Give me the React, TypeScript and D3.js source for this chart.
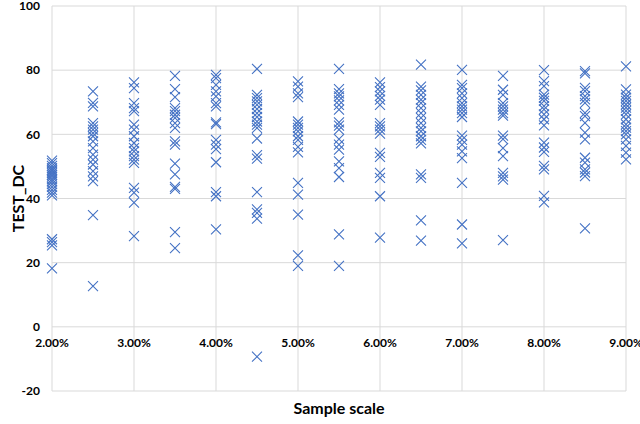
import React from "react";
import * as d3 from "d3";

// sample scale categories (x)
const sampleScale = [0.02, 0.025, 0.03, 0.035, 0.04, 0.045, 0.05, 0.055, 0.06, 0.065, 0.07, 0.075, 0.08, 0.085, 0.09];

// TEST_DC values read per sample scale
const dc200 = [51.8, 51, 50.2, 49.5, 49, 48.5, 48, 47.4, 46.8, 46, 45.3, 44.5, 43.6, 42.7, 41.8, 41, 27.3, 26.4, 25.4, 18.2];
const dc250 = [73.4, 69.8, 68.7, 63.5, 62.5, 61.5, 60.4, 59.4, 57.8, 55.7, 53.7, 52.1, 50.6, 48.5, 46.9, 45.4, 34.8, 12.7];
const dc300 = [76.2, 74.4, 69.7, 68.2, 67.2, 63, 61.5, 59.4, 57.3, 55.7, 54.7, 53.2, 52.1, 51.1, 43.3, 41.8, 38.7, 28.3];
const dc350 = [78.2, 74.1, 71.6, 68.2, 67.2, 66.1, 65.1, 63.5, 62, 57.8, 56.8, 50.9, 47.5, 43.6, 43, 29.5, 24.5];
const dc400 = [78.5, 77.5, 75.4, 73.4, 71.8, 69.7, 68.7, 63.7, 63.2, 58.3, 56.8, 55.4, 51.3, 42, 40.7, 30.4];
const dc450 = [80.4, 72.3, 71.3, 70.3, 69.2, 67.9, 66.6, 65.4, 64, 63, 62, 58.7, 53.5, 52.4, 42, 36.6, 35.5, 33.7, -9.3];
const dc500 = [76.5, 74.9, 72.8, 71.6, 64, 63, 62, 60.9, 59.4, 58.3, 56.1, 54.4, 44.9, 41.2, 35, 22.3, 19];
const dc550 = [80.4, 74.1, 72.8, 71.8, 70.6, 69.2, 67.7, 63.7, 62.7, 61.5, 58.5, 56.8, 55.2, 51.6, 49.5, 46.7, 28.8, 19];
const dc600 = [76.2, 74.7, 73.4, 72, 70.8, 69.2, 63.5, 62.5, 61.5, 60.2, 54.2, 53, 48, 46.4, 40.7, 27.8];
const dc650 = [81.7, 74.9, 73.7, 72.3, 70.8, 69.7, 68.2, 66.6, 65.1, 63.5, 62, 60.9, 59.4, 58.3, 57.2, 47.5, 46.4, 33.2, 26.9];
const dc700 = [80.1, 75.4, 74.4, 72.8, 71.3, 69.7, 68.7, 67.7, 66.6, 65.4, 59.6, 58.3, 56.8, 54.7, 52.6, 44.9, 31.9, 26];
const dc750 = [78.2, 73.9, 72.3, 69.7, 68.7, 67.7, 66.6, 65.8, 59.6, 58.5, 55.7, 53.2, 48, 46.9, 45.9, 27];
const dc800 = [80, 76.6, 75, 72.4, 71.4, 70.4, 68.8, 67.8, 66.2, 64.7, 62.8, 57.4, 55.9, 54.5, 50.2, 49.1, 40.8, 38.8];
const dc850 = [79.7, 79, 74.5, 73.5, 71.9, 70.9, 69.8, 66.7, 65.7, 63.6, 60.5, 58.4, 52.7, 51.2, 49.1, 48.1, 47, 30.7];
const dc900 = [81.2, 74, 72.4, 71.4, 70.4, 69.3, 68.3, 67.3, 66.2, 64.7, 63.1, 62.1, 61, 60, 58.4, 56.4, 54.3, 52.2];

const testDc = [dc200, dc250, dc300, dc350, dc400, dc450, dc500, dc550, dc600, dc650, dc700, dc750, dc800, dc850, dc900];

const xTicks = [0.02, 0.03, 0.04, 0.05, 0.06, 0.07, 0.08, 0.09];
const yTicks = [-20, 0, 20, 40, 60, 80, 100];

const W = 640;
const H = 424;
const font = "Lato, 'Open Sans', sans-serif";
const blue = "#4472C4";
const grid = "#d9d9d9";

export default function App() {
  const x = d3.scaleLinear().domain([0.02, 0.09]).range([52, 626]);
  const y = d3.scaleLinear().domain([-20, 100]).range([391, 6]);
  const fmt = d3.format(".2%");

  const points = testDc.flatMap((vals, i) => vals.map((v) => ({ sx: sampleScale[i], v })));
  const r = 5;

  return (
    <svg
      width={W}
      height={H}
      style={{ position: "absolute", left: 0, top: 0, background: "#fff" }}
      fontFamily={font}
    >
      {yTicks.map((t) => (
        <line key={"gy" + t} x1={x(0.02)} x2={x(0.09)} y1={y(t)} y2={y(t)} stroke={grid} strokeWidth={1} />
      ))}
      {xTicks.map((t) => (
        <line key={"gx" + t} x1={x(t)} x2={x(t)} y1={y(100)} y2={y(-20)} stroke={grid} strokeWidth={1} />
      ))}
      {yTicks.map((t) => (
        <text key={"ty" + t} x={40} y={y(t)} dy="0.35em" textAnchor="end" fontSize={12} fontWeight="bold" fill="#000">
          {t}
        </text>
      ))}
      {xTicks.map((t) => (
        <text key={"tx" + t} x={x(t)} y={y(0) + 16} dy="0.35em" textAnchor="middle" fontSize={12} fontWeight="bold" fill="#000">
          {fmt(t)}
        </text>
      ))}
      <g stroke={blue} strokeWidth={1.1} fill="none">
        {points.map((p, i) => {
          const cx = x(p.sx);
          const cy = y(p.v);
          return (
            <path
              key={i}
              d={`M${cx - r},${cy - r}L${cx + r},${cy + r}M${cx - r},${cy + r}L${cx + r},${cy - r}`}
            />
          );
        })}
      </g>
      <text
        transform={`translate(18,${(y(100) + y(-20)) / 2}) rotate(-90)`}
        textAnchor="middle"
        dy="0.35em"
        fontSize={16}
        fontWeight="bold"
        fill="#000"
      >
        TEST_DC
      </text>
      <text x={(x(0.02) + x(0.09)) / 2} y={414} textAnchor="middle" fontSize={16} fontWeight="bold" fill="#000">
        Sample scale
      </text>
    </svg>
  );
}
